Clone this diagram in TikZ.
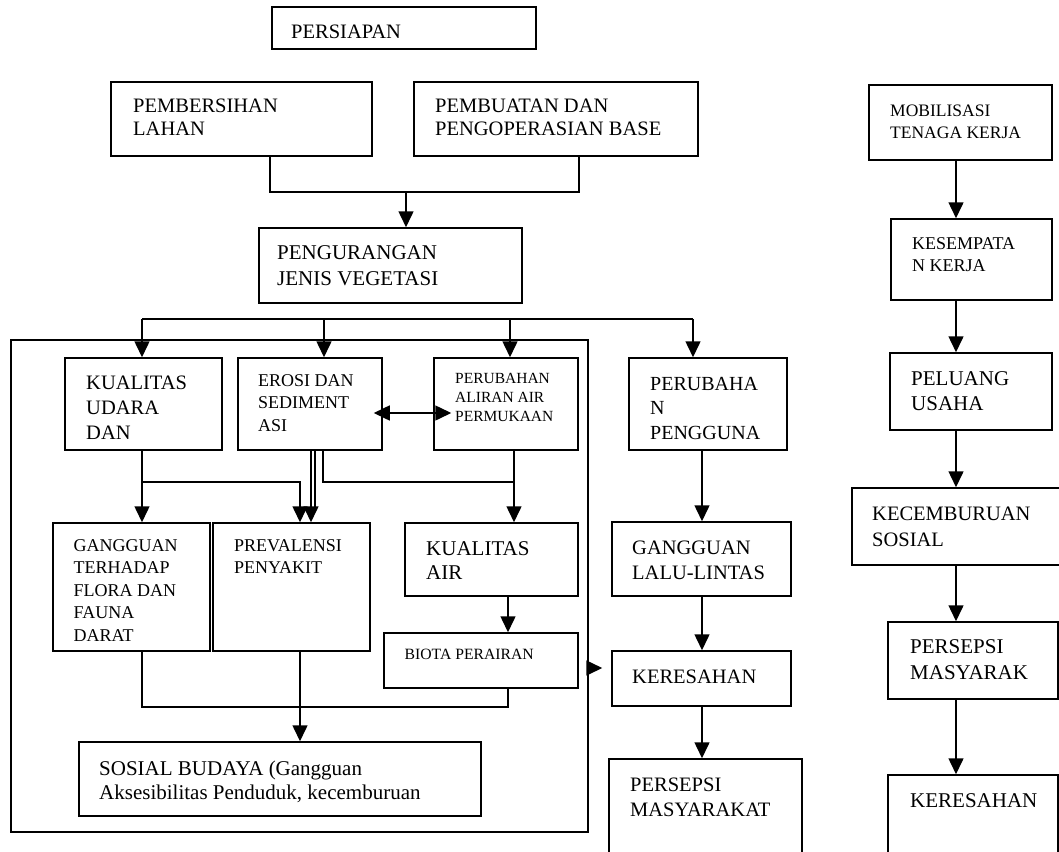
\documentclass[tikz,border=0pt]{standalone}
\usepackage{fontspec}
\setmainfont{Liberation Serif}
\usetikzlibrary{arrows.meta,fit}
% left-aligned block of lines, baseline on the first line
\newcommand\teks[3]{{\fontsize{#1}{#2}\selectfont\begin{tabular}[t]{@{}l@{}}#3\end{tabular}}}
\begin{document}
\begin{tikzpicture}[x=1pt,y=-1pt,
  kotak/.style={draw, line width=1.5pt, inner sep=0pt, fit={#1}},
  tulis/.style={inner sep=0pt, anchor=base west},
  garis/.style={line width=1.5pt},
  panah/.style={garis, -{Triangle[length=16pt,width=15pt]}},
  panahdua/.style={garis, {Triangle[length=16pt,width=15pt]}-{Triangle[length=16pt,width=15pt]}}]
\useasboundingbox (0,0) rectangle (1059,851);
\clip (0,0) rectangle (1059,851);

% ---------- persiapan ----------
\node[kotak={(272,7)(536,49)}] (siap) {};
\node[tulis] (siap-t) at (291,39) {\teks{20.5}{24}{PERSIAPAN}};

\node[kotak={(111,82)(372,156)}] (bersih) {};
\node[tulis] (bersih-t) at (133,112) {\teks{20.5}{23}{PEMBERSIHAN\\LAHAN}};
\node[kotak={(414,82)(698,156)}] (base) {};
\node[tulis] (base-t) at (435,112) {\teks{20.5}{23}{PEMBUATAN DAN\\PENGOPERASIAN BASE}};

\node[kotak={(259,228)(522,303)}] (veg) {};
\node[tulis] (veg-t) at (277,259) {\teks{21}{26}{PENGURANGAN\\JENIS VEGETASI}};

% ---------- dampak lingkungan ----------
\node[kotak={(11,340)(588,832)}] (lingk) {};

\node[kotak={(65,358)(222,450)}] (udara) {};
\node[tulis] (udara-t) at (86,389) {\teks{20.5}{25}{KUALITAS\\UDARA\\DAN}};
\node[kotak={(238,358)(382,450)}] (erosi) {};
\node[tulis] (erosi-t) at (258,386) {\teks{18}{22.5}{EROSI DAN\\SEDIMENT\\ASI}};
\node[kotak={(434,358)(578,450)}] (aliran) {};
\node[tulis] (aliran-t) at (455,383) {\teks{15.5}{19}{PERUBAHAN\\ALIRAN AIR\\PERMUKAAN}};

\node[kotak={(53,523)(210,651)}] (flora) {};
\node[tulis] (flora-t) at (73.5,551) {\teks{18}{22.5}{GANGGUAN\\TERHADAP\\FLORA DAN\\FAUNA\\DARAT}};
\node[kotak={(213,523)(370,651)}] (prev) {};
\node[tulis] (prev-t) at (234,551) {\teks{18}{22}{PREVALENSI\\PENYAKIT}};
\node[kotak={(405,523)(578,596)}] (air) {};
\node[tulis] (air-t) at (426,555) {\teks{21}{24}{KUALITAS\\AIR}};
\node[kotak={(384,633)(578,688)}] (biota) {};
\node[tulis] (biota-t) at (404.5,659) {\teks{15.7}{19}{BIOTA PERAIRAN}};
\node[kotak={(79,742)(481,816)}] (sosbud) {};
\node[tulis] (sosbud-t) at (99,775) {\teks{21}{24}{SOSIAL BUDAYA (Gangguan\\Aksesibilitas Penduduk, kecemburuan}};

% ---------- lalu lintas ----------
\node[kotak={(629,358)(787,450)}] (guna) {};
\node[tulis] (guna-t) at (650,390) {\teks{20}{24.5}{PERUBAHA\\N\\PENGGUNA}};
\node[kotak={(612,522)(791,596)}] (lalin) {};
\node[tulis] (lalin-t) at (632,554) {\teks{20.5}{25}{GANGGUAN\\LALU-LINTAS}};
\node[kotak={(612,651)(791,706)}] (resah1) {};
\node[tulis] (resah1-t) at (632,683) {\teks{20.5}{25}{KERESAHAN}};
\node[kotak={(609,759)(802,880)}] (persep1) {};
\node[tulis] (persep1-t) at (630,791) {\teks{20.5}{25}{PERSEPSI\\MASYARAKAT}};

% ---------- tenaga kerja ----------
\node[kotak={(869,85)(1052,160)}] (mob) {};
\node[tulis] (mob-t) at (890,116) {\teks{17.5}{22}{MOBILISASI\\TENAGA KERJA}};
\node[kotak={(891,219)(1052,300)}] (kerja) {};
\node[tulis] (kerja-t) at (912,249) {\teks{18}{22}{KESEMPATA\\N KERJA}};
\node[kotak={(890,353)(1052,430)}] (usaha) {};
\node[tulis] (usaha-t) at (911,385) {\teks{21}{25}{PELUANG\\USAHA}};
\node[kotak={(852,488)(1070,565)}] (cembu) {};
\node[tulis] (cembu-t) at (872,520) {\teks{20.5}{26}{KECEMBURUAN\\SOSIAL}};
\node[kotak={(888,622)(1058,699)}] (persep2) {};
\node[tulis] (persep2-t) at (910,653) {\teks{21}{26}{PERSEPSI\\MASYARAK}};
\node[kotak={(888,775)(1058,880)}] (resah2) {};
\node[tulis] (resah2-t) at (910,807) {\teks{21}{25}{KERESAHAN}};

% ---------- connector axes ----------
\coordinate (vBersih) at (270,0);
\coordinate (vBase) at (579,0);
\coordinate (vVeg) at (406,0);
\coordinate (hGabung) at (0,192);
\coordinate (hCabang) at (0,319);
\coordinate (vUdara) at (142,0);
\coordinate (vErosi) at (324,0);
\coordinate (vAliran) at (510,0);
\coordinate (vGuna) at (693,0);
\coordinate (hDua) at (0,413);
\coordinate (hTengah) at (0,482);
\coordinate (hPanah) at (0,510);
\coordinate (vPrev) at (300,0);
\coordinate (vErosiA) at (311,0);
\coordinate (vErosiB) at (315,0);
\coordinate (vErosiC) at (323,0);
\coordinate (vAir) at (514,0);
\coordinate (vBiota) at (508,0);
\coordinate (vFlora) at (142,0);
\coordinate (hBawah) at (0,707);
\coordinate (vLalin) at (702,0);
\coordinate (hMasuk) at (0,668);
\coordinate (vKerja) at (956,0);

% persiapan -> vegetasi
\draw[garis] (vBersih |- bersih.south) -- (vBersih |- hGabung) -- (vBase |- hGabung) -- (vBase |- base.south);
\draw[panah] (vVeg |- hGabung) -- (vVeg |- veg.north);

% cabang dampak
\draw[garis] (vUdara |- hCabang) -- (vGuna |- hCabang);
\foreach \p/\b in {vUdara/udara, vErosi/erosi, vAliran/aliran, vGuna/guna}
  \draw[panah] (\p |- hCabang) -- (\p |- \b.north);

\draw[panahdua, shorten <=-9pt, shorten >=-18pt] (erosi.east |- hDua) -- (aliran.west |- hDua);

\draw[panah] (vUdara |- udara.south) -- (vUdara |- flora.north);
\draw[panah] (vUdara |- hTengah) -- (vPrev |- hTengah) -- (vPrev |- prev.north);
\draw[panah] (vErosiA |- erosi.south) -- (vErosiA |- prev.north);
\draw[garis] (vErosiB |- erosi.south) -- (vErosiB |- hPanah);
\draw[garis] (vErosiC |- erosi.south) -- (vErosiC |- hTengah) -- (vAir |- hTengah);
\draw[panah] (vAir |- aliran.south) -- (vAir |- air.north);
\draw[panah] (vBiota |- air.south) -- (vBiota |- biota.north);
\draw[garis] (vFlora |- flora.south) -- (vFlora |- hBawah) -- (vBiota |- hBawah) -- (vBiota |- biota.south);
\draw[panah] (vPrev |- prev.south) -- (vPrev |- sosbud.north);

% lalu lintas
\draw[panah] (vLalin |- guna.south) -- (vLalin |- lalin.north);
\draw[panah] (vLalin |- lalin.south) -- (vLalin |- resah1.north);
\draw[panah] (vLalin |- resah1.south) -- (vLalin |- persep1.north);
\draw[panah, shorten >=9pt] (lingk.east |- hMasuk) -- (resah1.west |- hMasuk);

% tenaga kerja
\foreach \a/\b in {mob/kerja, kerja/usaha, usaha/cembu, cembu/persep2, persep2/resah2}
  \draw[panah] (vKerja |- \a.south) -- (vKerja |- \b.north);
\end{tikzpicture}
\end{document}
